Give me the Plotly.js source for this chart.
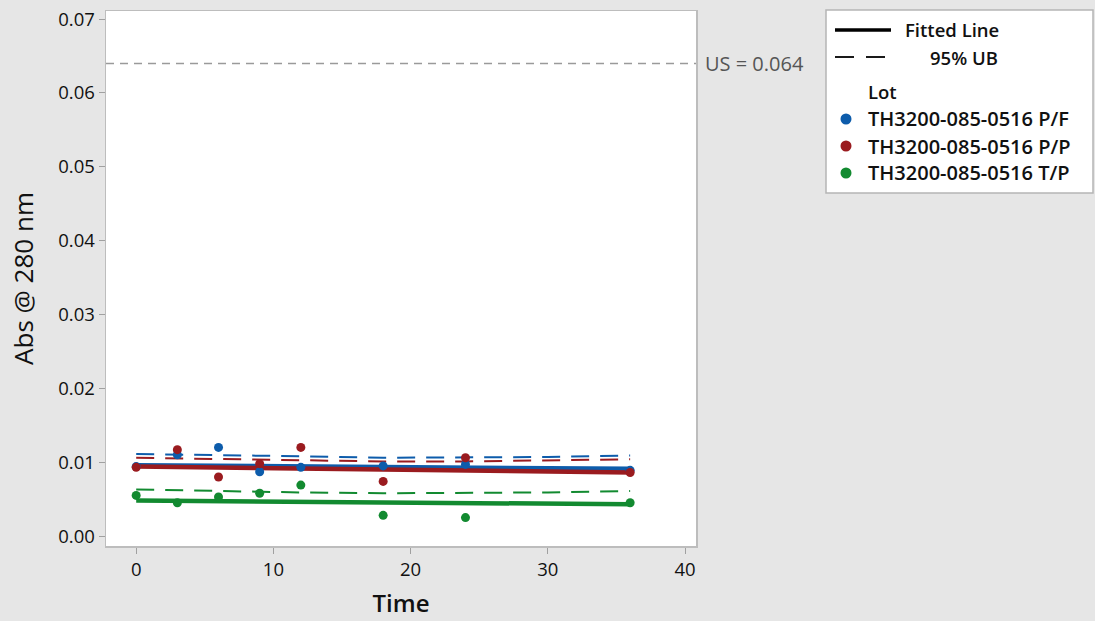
<!DOCTYPE html>
<html>
<head>
<meta charset="utf-8">
<script src="https://cdn.plot.ly/plotly-3.0.1.min.js"></script>
<style>html,body{margin:0;padding:0;background:#e6e6e6;}#chart{width:1095px;height:621px;}</style>
</head>
<body>
<div id="chart"></div>
<script>
// ---- data ----
const lotNames = ["TH3200-085-0516 P/F", "TH3200-085-0516 P/P", "TH3200-085-0516 T/P"];
const lotColors = ["#0d5cab", "#9a1b1f", "#128a30"];
const obsTime = [0, 3, 6, 9, 12, 18, 24, 36];
const obsPF = [0.0094, 0.0110, 0.0120, 0.0087, 0.0093, 0.0095, 0.0097, 0.0089];
const obsPP = [0.0093, 0.0117, 0.0080, 0.0098, 0.0120, 0.0074, 0.0106, 0.0086];
const obsTP = [0.0055, 0.0045, 0.0053, 0.0058, 0.0069, 0.0028, 0.0025, 0.0045];
const fitTime = [0, 36];
const fitPF = [0.0096, 0.0091];
const fitPP = [0.0094, 0.0086];
const fitTP = [0.0048, 0.0043];
const ubTime = [0, 6, 12, 18, 24, 30, 36];
const ubPF = [0.0111, 0.0110, 0.0108, 0.0106, 0.0106, 0.0107, 0.0109];
const ubPP = [0.0106, 0.0104, 0.0102, 0.0101, 0.0101, 0.0102, 0.0104];
const ubTP = [0.0063, 0.0061, 0.0059, 0.0058, 0.0058, 0.0059, 0.0061];
const specLimit = 0.064;
const xTicks = [0, 10, 20, 30, 40];
const yTicks = [0, 0.01, 0.02, 0.03, 0.04, 0.05, 0.06, 0.07];

const obs = [obsPF, obsPP, obsTP];
const fits = [fitPF, fitPP, fitTP];
const ubs = [ubPF, ubPP, ubTP];

const FONT = "Open Sans, Noto Sans, sans-serif";
const traces = [];
for (let i = 0; i < 3; i++) {
  traces.push({x: ubTime, y: ubs[i], mode: "lines", line: {color: lotColors[i], width: 2, dash: "18px,11px"}, showlegend: false, hoverinfo: "skip"});
}
for (let i = 0; i < 3; i++) {
  traces.push({x: fitTime, y: fits[i], mode: "lines", line: {color: lotColors[i], width: 4.5}, showlegend: false, hoverinfo: "skip"});
}
for (let i = 0; i < 3; i++) {
  traces.push({x: obsTime, y: obs[i], mode: "markers", marker: {color: lotColors[i], size: 9}, name: lotNames[i], showlegend: false});
}

// pixel -> paper helpers (plot area: x 106..696, y 11..546)
const px = p => (p - 106) / 590;
const py = p => (546 - p) / 535;

const shapes = [
  {type: "line", xref: "paper", yref: "y", x0: 0, x1: 1, y0: specLimit, y1: specLimit, line: {color: "#9a9a9a", width: 1.5, dash: "8px,6px"}},
  {type: "rect", xref: "paper", yref: "paper", x0: px(826), x1: px(1093), y0: py(10), y1: py(193), fillcolor: "#ffffff", line: {color: "#b5b5b5", width: 1.5}},
  {type: "line", xref: "paper", yref: "paper", x0: px(835), x1: px(891), y0: py(30), y1: py(30), line: {color: "#000", width: 3.5}},
  {type: "line", xref: "paper", yref: "paper", x0: px(835), x1: px(854), y0: py(57), y1: py(57), line: {color: "#000", width: 1.8}},
  {type: "line", xref: "paper", yref: "paper", x0: px(866), x1: px(885), y0: py(57), y1: py(57), line: {color: "#000", width: 1.8}}
];
const legY = [119, 146, 173];
for (let i = 0; i < 3; i++) {
  shapes.push({type: "circle", xref: "paper", yref: "paper", xsizemode: "pixel", ysizemode: "pixel",
    xanchor: px(846), yanchor: py(legY[i]), x0: -5.5, x1: 5.5, y0: -5.5, y1: 5.5,
    fillcolor: lotColors[i], line: {color: lotColors[i], width: 0}});
}

const hdrFont = {family: FONT, size: 18.5, color: "#111", weight: 600};
const lotFont = {family: FONT, size: 20, color: "#111", weight: 600};
const annotations = [
  {xref: "paper", yref: "y", x: px(703), y: specLimit, text: "US = 0.064", showarrow: false, xanchor: "left", yanchor: "middle", font: {family: FONT, size: 20, color: "#555"}},
  {xref: "paper", yref: "paper", x: px(903), y: py(30), text: "Fitted Line", showarrow: false, xanchor: "left", yanchor: "middle", font: hdrFont},
  {xref: "paper", yref: "paper", x: px(928), y: py(57), text: "95% UB", showarrow: false, xanchor: "left", yanchor: "middle", font: hdrFont},
  {xref: "paper", yref: "paper", x: px(866), y: py(91), text: "Lot", showarrow: false, xanchor: "left", yanchor: "middle", font: hdrFont}
];
for (let i = 0; i < 3; i++) {
  annotations.push({xref: "paper", yref: "paper", x: px(866), y: py(legY[i]), text: lotNames[i], showarrow: false, xanchor: "left", yanchor: "middle", font: lotFont});
}

const layout = {
  width: 1095, height: 621,
  margin: {l: 106, r: 399, t: 11, b: 75},
  paper_bgcolor: "#e6e6e6", plot_bgcolor: "#ffffff",
  font: {family: FONT, color: "#111"},
  showlegend: false,
  xaxis: {
    range: [-2.2, 40.8], tickvals: xTicks, ticktext: xTicks.map(String),
    showgrid: false, zeroline: false, showline: true, mirror: true, linecolor: "#bdbdbd", linewidth: 1.5,
    ticks: "outside", ticklen: 6, tickcolor: "#a0a0a0", tickwidth: 1,
    tickfont: {family: FONT, size: 18.5, color: "#111"},
    title: {text: "Time", font: {family: FONT, size: 24, color: "#111", weight: 600}, standoff: 15}
  },
  yaxis: {
    range: [-0.00135, 0.0711], tickvals: yTicks, ticktext: yTicks.map(v => v.toFixed(2)),
    showgrid: false, zeroline: false, showline: true, mirror: true, linecolor: "#bdbdbd", linewidth: 1.5,
    ticks: "outside", ticklen: 6, tickcolor: "#a0a0a0", tickwidth: 1,
    tickfont: {family: FONT, size: 18.5, color: "#111"},
    title: {text: "Abs @ 280 nm", font: {family: FONT, size: 26, color: "#111"}, standoff: 17}
  },
  shapes: shapes,
  annotations: annotations
};

Plotly.newPlot("chart", traces, layout, {displayModeBar: false, staticPlot: true});
</script>
</body>
</html>
